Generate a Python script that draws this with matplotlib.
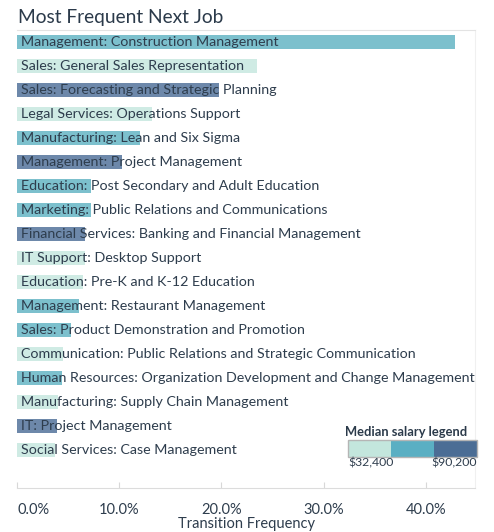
import matplotlib
matplotlib.use("Agg")
import matplotlib.pyplot as plt
from matplotlib.patches import Rectangle

jobs = [
    "Management: Construction Management",
    "Sales: General Sales Representation",
    "Sales: Forecasting and Strategic Planning",
    "Legal Services: Operations Support",
    "Manufacturing: Lean and Six Sigma",
    "Management: Project Management",
    "Education: Post Secondary and Adult Education",
    "Marketing: Public Relations and Communications",
    "Financial Services: Banking and Financial Management",
    "IT Support: Desktop Support",
    "Education: Pre-K and K-12 Education",
    "Management: Restaurant Management",
    "Sales: Product Demonstration and Promotion",
    "Communication: Public Relations and Strategic Communication",
    "Human Resources: Organization Development and Change Management",
    "Manufacturing: Supply Chain Management",
    "IT: Project Management",
    "Social Services: Case Management",
]
frequency = [42.8, 23.5, 19.8, 13.2, 12.0, 10.3, 7.2, 7.2, 6.7, 6.7, 6.5,
             6.1, 5.3, 4.5, 4.4, 4.0, 3.9, 3.7]
# salary tier: 0 = low, 1 = mid, 2 = high
salary_tier = [1, 0, 2, 0, 1, 2, 1, 1, 2, 0, 0, 1, 1, 0, 1, 0, 2, 0]
tier_colors = ["#cfebe4", "#7cc0cd", "#6d88aa"]
legend_colors = ["#c3e6dd", "#5aafc3", "#4b6d95"]
legend_labels = ["$32,400", "$90,200"]
xticks = [0, 10, 20, 30, 40]

FONT = "Lato"
TXT = "#2e3d4d"

fig = plt.figure(figsize=(4.94, 5.32), dpi=100)
W, H = 494, 532
ax = fig.add_axes([17 / W, 1 - 488 / H, 458 / W, (488 - 30) / H])

n = len(jobs)
ypos = list(range(n))
ax.barh(ypos, frequency, height=0.55,
        color=[tier_colors[t] for t in salary_tier], zorder=1)
for i, lab in enumerate(jobs):
    ax.text(0.35, i, lab, va="center", ha="left", fontsize=10.3,
            family=FONT, color=TXT, zorder=3)

ax.set_xlim(0, 44.8)
ax.set_ylim(n - 1 + 1.58, -0.5)
ax.set_yticks([])
ax.set_xticks(xticks)
ax.set_xticklabels([f"{v:.1f}%" for v in xticks], family=FONT, fontsize=10.5,
                   color=TXT)
ax.get_xticklabels()[0].set_horizontalalignment("left")
ax.tick_params(axis="x", direction="in", length=4, color="#d8d8d8", pad=11)
ax.set_xlabel("Transition Frequency", family=FONT, fontsize=10.5,
              color=TXT, labelpad=0)
ax.spines["left"].set_visible(False)
ax.spines["bottom"].set_color("#dcdcdc")
ax.spines["top"].set_color("#e3e3e3")
ax.spines["right"].set_color("#f0f0f0")
ax.spines["top"].set_linewidth(0.8)

# Title
fig.text(18 / W, 1 - 17 / H, "Most Frequent Next Job", family=FONT,
         fontsize=13.8, color="#2b3a4a", va="center", ha="left")

# Legend
fig.text(345 / W, 1 - 432 / H, "Median salary legend", family=FONT,
         fontsize=9.3, weight="bold", color="#2b3a4a", va="center", ha="left")
lx0, lx1, ly0, ly1 = 348, 477, 440, 457
seg = (lx1 - lx0) / 3
for k, c in enumerate(legend_colors):
    fig.patches.append(Rectangle(((lx0 + k * seg) / W, 1 - ly1 / H), seg / W,
                                 (ly1 - ly0) / H, transform=fig.transFigure,
                                 facecolor=c, edgecolor="none"))
fig.patches.append(Rectangle((lx0 / W, 1 - ly1 / H), (lx1 - lx0) / W,
                             (ly1 - ly0) / H, transform=fig.transFigure,
                             facecolor="none", edgecolor="#b5b5b5", lw=1))
fig.text(lx0 / W, 1 - 463 / H, legend_labels[0], family=FONT, fontsize=8.8,
         color=TXT, va="center", ha="left")
fig.text(lx1 / W, 1 - 463 / H, legend_labels[1], family=FONT, fontsize=8.8,
         color=TXT, va="center", ha="right")

fig.savefig("out.png", dpi=100, facecolor="white")
